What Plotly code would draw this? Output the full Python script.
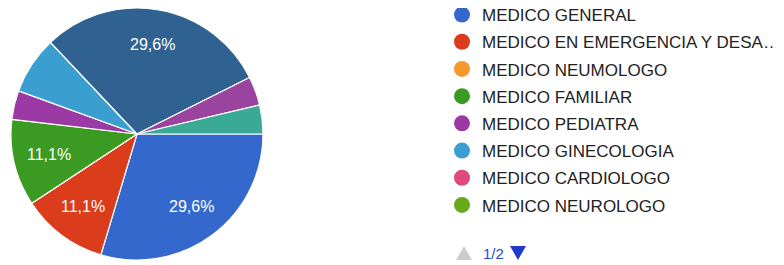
import math
import plotly.graph_objects as go

labels = ["MEDICO GENERAL", "MEDICO EN EMERGENCIA Y DESASTRES", "MEDICO NEUMOLOGO",
          "MEDICO FAMILIAR", "MEDICO PEDIATRA", "MEDICO GINECOLOGIA",
          "MEDICO CARDIOLOGO", "MEDICO NEUROLOGO", "OTRO 1", "OTRO 2", "OTRO 3", "OTRO 4"]
counts = [8, 3, 0, 3, 1, 2, 0, 0, 0, 8, 1, 1]
colors = ["#3468cc", "#db3c1c", "#f7982f", "#3a9a22", "#9b3aa5", "#3a9fd0",
          "#e0497b", "#66aa1a", "#b82e2e", "#2f6191", "#9a449f", "#3aa996"]
legend_labels = ["MEDICO GENERAL", "MEDICO EN EMERGENCIA Y DESA…", "MEDICO NEUMOLOGO",
                 "MEDICO FAMILIAR", "MEDICO PEDIATRA", "MEDICO GINECOLOGIA",
                 "MEDICO CARDIOLOGO", "MEDICO NEUROLOGO"]
page_label = "1/2"
start_angle = 90  # first slice starts at 3 o'clock, clockwise

total = sum(counts)

# Pie domain (page body has an 8px margin, so paper coords = window - 8)
W, H = 784, 265
dom_x = [2 / W, 256 / W]
dom_y = [(H - 252) / H, 1.0]

fig = go.Figure()
fig.add_trace(go.Pie(
    labels=labels, values=counts, sort=False, direction="clockwise", rotation=start_angle,
    marker=dict(colors=colors, line=dict(color="white", width=1.2)),
    textinfo="none", showlegend=False, hoverinfo="label+percent",
    domain=dict(x=dom_x, y=dom_y),
))

# slice labels (only for slices > 10%), placed along each slice bisector at 72% radius
cx = (dom_x[0] + dom_x[1]) / 2
cy = (dom_y[0] + dom_y[1]) / 2
R = min((dom_x[1] - dom_x[0]) * W, (dom_y[1] - dom_y[0]) * H) / 2
annotations = []
cum = 0
for c in counts:
    frac = c / total
    if frac > 0.1:
        th = math.radians(start_angle + (cum + frac / 2) * 360)
        annotations.append(dict(
            x=cx + 0.72 * R * math.sin(th) / W, y=cy + 0.72 * R * math.cos(th) / H,
            xref="paper", yref="paper", showarrow=False,
            text=f"{frac * 100:.1f}".replace(".", ",") + "%",
            font=dict(color="white", size=16, family="Arial, Liberation Sans"),
            xanchor="center", yanchor="middle"))
    cum += frac

for i, name in enumerate(legend_labels):
    fig.add_trace(go.Scatter(
        x=[None], y=[None], mode="markers", name=name, legendgroup=str(i),
        marker=dict(color=colors[i], size=16, symbol="circle"),
    ))

# pagination indicator
py = 20 / H
annotations.append(dict(x=473 / W, y=py, xref="paper", yref="paper", text=page_label,
                        showarrow=False, xanchor="left", yanchor="middle",
                        font=dict(size=15, color="#2a48cc", family="Arial, Liberation Sans")))
def tri(xc, up):
    hw, hh = 8 / W, 7 / H
    if up:
        return f"M {xc - hw},{py - hh} L {xc + hw},{py - hh} L {xc},{py + hh} Z"
    return f"M {xc - hw},{py + hh} L {xc + hw},{py + hh} L {xc},{py - hh} Z"
shapes = [
    dict(type="path", xref="paper", yref="paper", path=tri(456 / W, True),
         fillcolor="#cccccc", line=dict(width=0)),
    dict(type="path", xref="paper", yref="paper", path=tri(510 / W, False),
         fillcolor="#1f3acc", line=dict(width=0)),
]

fig.update_layout(
    width=W, height=H, margin=dict(l=0, r=0, t=0, b=0, autoexpand=False),
    paper_bgcolor="white", plot_bgcolor="white",
    xaxis=dict(visible=False), yaxis=dict(visible=False),
    legend=dict(x=434 / W, y=1 + 11 / H, xanchor="left", yanchor="top",
                font=dict(size=17, color="#222222", family="Arial, Liberation Sans"),
                tracegroupgap=2.1, itemclick=False, itemdoubleclick=False,
                bgcolor="rgba(0,0,0,0)", maxheight=400),
    annotations=annotations,
    shapes=shapes,
)

fig.write_html("out.html")
